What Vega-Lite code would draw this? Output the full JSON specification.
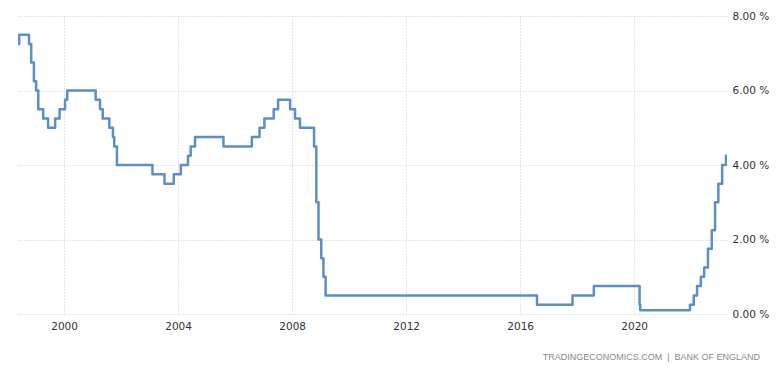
{
  "$schema": "https://vega.github.io/schema/vega-lite/v6.json",
  "autosize": "none",
  "width": 709,
  "height": 298,
  "padding": {"left": 18, "top": 16, "right": 53, "bottom": 53},
  "background": "white",
  "title": {
    "text": "TRADINGECONOMICS.COM\u00a0\u00a0|\u00a0\u00a0BANK OF ENGLAND",
    "orient": "bottom",
    "anchor": "end",
    "frame": "group",
    "dx": 33,
    "offset": 21,
    "font": "Liberation Sans",
    "fontSize": 9,
    "fontWeight": "normal",
    "color": "#8a8a8a"
  },
  "config": {
    "view": {"stroke": null},
    "axis": {
      "labelFont": "DejaVu Sans",
      "labelFontSize": 10.5,
      "labelColor": "#333333",
      "domain": false,
      "ticks": false,
      "gridColor": "#cccccc",
      "gridDash": [1, 2],
      "gridWidth": 1,
      "title": null
    }
  },
  "data": {
    "values": [
      {"date": "1998-05-20", "rate": 7.25},
      {"date": "1998-06-04", "rate": 7.5},
      {"date": "1998-10-08", "rate": 7.25},
      {"date": "1998-11-05", "rate": 6.75},
      {"date": "1998-12-10", "rate": 6.25},
      {"date": "1999-01-07", "rate": 6.0},
      {"date": "1999-02-04", "rate": 5.5},
      {"date": "1999-04-08", "rate": 5.25},
      {"date": "1999-06-10", "rate": 5.0},
      {"date": "1999-09-08", "rate": 5.25},
      {"date": "1999-11-04", "rate": 5.5},
      {"date": "2000-01-13", "rate": 5.75},
      {"date": "2000-02-10", "rate": 6.0},
      {"date": "2001-02-08", "rate": 5.75},
      {"date": "2001-04-05", "rate": 5.5},
      {"date": "2001-05-10", "rate": 5.25},
      {"date": "2001-08-02", "rate": 5.0},
      {"date": "2001-09-18", "rate": 4.75},
      {"date": "2001-10-04", "rate": 4.5},
      {"date": "2001-11-08", "rate": 4.0},
      {"date": "2003-02-06", "rate": 3.75},
      {"date": "2003-07-10", "rate": 3.5},
      {"date": "2003-11-06", "rate": 3.75},
      {"date": "2004-02-05", "rate": 4.0},
      {"date": "2004-05-06", "rate": 4.25},
      {"date": "2004-06-10", "rate": 4.5},
      {"date": "2004-08-05", "rate": 4.75},
      {"date": "2005-08-04", "rate": 4.5},
      {"date": "2006-08-03", "rate": 4.75},
      {"date": "2006-11-09", "rate": 5.0},
      {"date": "2007-01-11", "rate": 5.25},
      {"date": "2007-05-10", "rate": 5.5},
      {"date": "2007-07-05", "rate": 5.75},
      {"date": "2007-12-06", "rate": 5.5},
      {"date": "2008-02-07", "rate": 5.25},
      {"date": "2008-04-10", "rate": 5.0},
      {"date": "2008-10-08", "rate": 4.5},
      {"date": "2008-11-06", "rate": 3.0},
      {"date": "2008-12-04", "rate": 2.0},
      {"date": "2009-01-08", "rate": 1.5},
      {"date": "2009-02-05", "rate": 1.0},
      {"date": "2009-03-05", "rate": 0.5},
      {"date": "2016-08-04", "rate": 0.25},
      {"date": "2017-11-02", "rate": 0.5},
      {"date": "2018-08-02", "rate": 0.75},
      {"date": "2020-03-11", "rate": 0.25},
      {"date": "2020-03-19", "rate": 0.1},
      {"date": "2021-12-16", "rate": 0.25},
      {"date": "2022-02-03", "rate": 0.5},
      {"date": "2022-03-17", "rate": 0.75},
      {"date": "2022-05-05", "rate": 1.0},
      {"date": "2022-06-16", "rate": 1.25},
      {"date": "2022-08-04", "rate": 1.75},
      {"date": "2022-09-22", "rate": 2.25},
      {"date": "2022-11-03", "rate": 3.0},
      {"date": "2022-12-15", "rate": 3.5},
      {"date": "2023-02-02", "rate": 4.0},
      {"date": "2023-03-23", "rate": 4.25},
      {"date": "2023-04-03", "rate": 4.25}
    ]
  },
  "mark": {
    "type": "line",
    "interpolate": "step-after",
    "color": "#5a8fc8",
    "strokeWidth": 2.5,
    "strokeJoin": "round",
    "clip": true
  },
  "encoding": {
    "x": {
      "field": "date",
      "type": "temporal",
      "scale": {"domain": ["1998-05-20", "2023-04-05"], "nice": false},
      "axis": {
        "values": [{"year": 2000}, {"year": 2004}, {"year": 2008}, {"year": 2012}, {"year": 2016}, {"year": 2020}],
        "format": "%Y",
        "labelPadding": 7,
        "labelFlush": false
      }
    },
    "y": {
      "field": "rate",
      "type": "quantitative",
      "scale": {"domain": [0, 8], "nice": false, "zero": true},
      "axis": {
        "orient": "right",
        "values": [0, 2, 4, 6, 8],
        "labelExpr": "format(datum.value, '.2f') + ' %'",
        "labelPadding": 5
      }
    }
  }
}
